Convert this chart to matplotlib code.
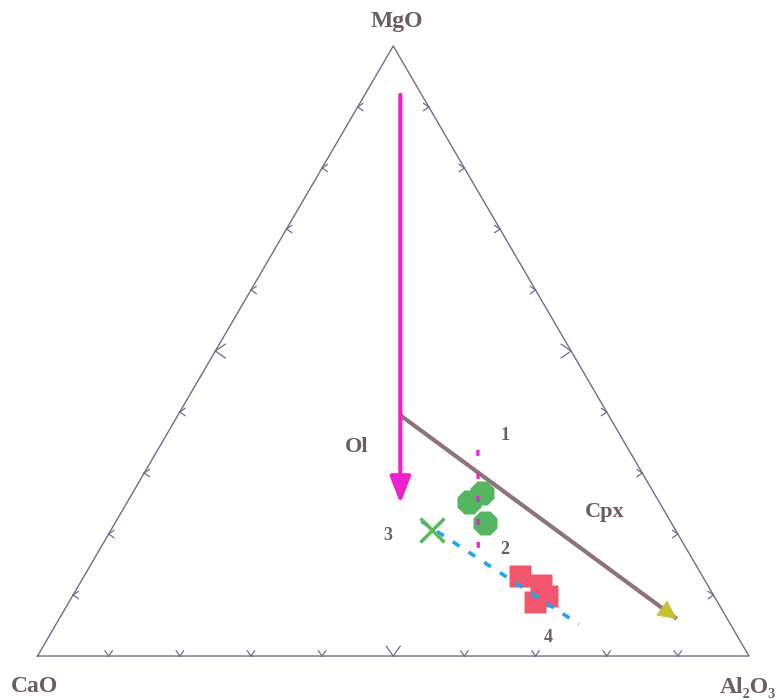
import numpy as np
import matplotlib
matplotlib.use('Agg')
import matplotlib.pyplot as plt

# ─── Datos (composiciones: CaO, MgO, Al2O3) ──────────────────────────────────
ol_start = (0.03, 0.92, 0.05)
ol_end = (0.365, 0.25, 0.385)
cpx_start = (0.293, 0.395, 0.312)
cpx_end = (0.071, 0.061, 0.868)
line1_top = (0.212, 0.338, 0.450)
line1_bot = (0.292, 0.177, 0.531)
line4_start = (0.350, 0.221, 0.429)
line4_end = (0.213, 0.052, 0.735)
green_ca = [0.2415, 0.2673, 0.2620]
green_mg = [0.2672, 0.2524, 0.2180]
green_al = [0.4913, 0.4803, 0.5200]
red_ca = [0.2563, 0.2341, 0.2347, 0.2565]
red_mg = [0.1312, 0.1164, 0.0984, 0.0885]
red_al = [0.6125, 0.6495, 0.6669, 0.6550]
cross = (0.342, 0.207, 0.451)
ticks = [i / 10 for i in range(1, 10)]

TXT = '#6d5b66'
EDGE = '#74698e'
FONT = ['Liberation Serif', 'DejaVu Serif']
H = np.sqrt(3) / 2


def tern(ca, mg, al):
    ca, mg, al = np.asarray(ca, float), np.asarray(mg, float), np.asarray(al, float)
    s = ca + mg + al
    return (al + 0.5 * mg) / s, mg * H / s


fig = plt.figure(figsize=(7.81, 6.99), dpi=100)
ax = fig.add_axes([0, 0, 1, 1])
ax.set_xlim(-0.0527, 1.0450)
ax.set_ylim(-0.0610, 0.9313)
ax.axis('off')

# triángulo
vx, vy = tern([1, 0, 0, 1], [0, 1, 0, 0], [0, 0, 1, 0])
ax.plot(vx, vy, color=EDGE, lw=1.0)


# marcas (chevrons)
def chevron(x, y, ang, size):
    a = np.deg2rad(ang)
    for d in (-35, 35):
        b = a + np.deg2rad(d) + np.pi
        ax.plot([x, x + size * np.cos(b)], [y, y + size * np.sin(b)],
                color=EDGE, lw=0.9)


for t in ticks:
    size = 0.017 if t == 0.5 else 0.009
    x, y = tern(1 - t, 0, t)
    chevron(x, y, -90, size)
    x, y = tern(1 - t, t, 0)
    chevron(x, y, 180, size)
    x, y = tern(0, t, 1 - t)
    chevron(x, y, 0, size)

# Ol: flecha magenta
ax.annotate('', xy=tern(*ol_end), xytext=tern(*ol_start),
            arrowprops=dict(arrowstyle='-|>,head_length=0.9,head_width=0.35',
                            color='#ee22cc', lw=3, mutation_scale=18,
                            shrinkA=0, shrinkB=0))

# Cpx: línea marrón con punta amarilla
cx, cy = tern(*zip(cpx_start, cpx_end))
ax.plot(cx, cy, color='#8c7479', lw=3, solid_capstyle='butt')
ex, ey = tern(*cpx_end)
ax.annotate('', xy=(ex, ey), xytext=(ex - 0.02, ey + 0.0145),
            arrowprops=dict(arrowstyle='-|>,head_length=0.9,head_width=0.45',
                            color='#c8c030', lw=0.5, mutation_scale=14,
                            shrinkA=0, shrinkB=0))

# puntos
gx, gy = tern(green_ca, green_mg, green_al)
ax.plot(gx, gy, '8', ms=18, color='#55b561', mec='none', zorder=3)
rx, ry = tern(red_ca, red_mg, red_al)
ax.plot(rx, ry, 's', ms=16.5, color='#f2566c', mec='none', zorder=3)
xx, xy = tern(*cross)
ax.plot(xx, xy, 'x', ms=17, mew=2.5, color='#5cb85c', zorder=6)

# línea 1: magenta discontinua
lx, ly = tern(*zip(line1_top, line1_bot))
ax.plot(lx, ly, color='#ee22cc', lw=2.3, dashes=(1.9, 5.3), dash_capstyle='butt',
        zorder=4)

# línea 4: azul punteada
bx, by = tern(*zip(line4_start, line4_end))
ax.plot(bx, by, color='#1aa7ec', lw=2.6, dashes=(2.2, 3.0), dash_capstyle='butt',
        zorder=5)

# etiquetas
labels = [('MgO', 397, 22, 17), ('CaO', 35, 686, 17), ('Al₂O₃', 748, 688, 17),
          ('Ol', 357, 447, 16), ('Cpx', 605, 512, 16),
          ('1', 505, 436, 13), ('2', 505, 550, 13), ('3', 388, 535, 13),
          ('4', 548, 637, 13)]
for s, px, py, fs in labels:
    fig.text(px / 781, 1 - py / 699, s, ha='center', va='center', fontsize=fs,
             fontweight='bold', color=TXT, family=FONT)

fig.savefig('out.png', dpi=100, facecolor='white')
